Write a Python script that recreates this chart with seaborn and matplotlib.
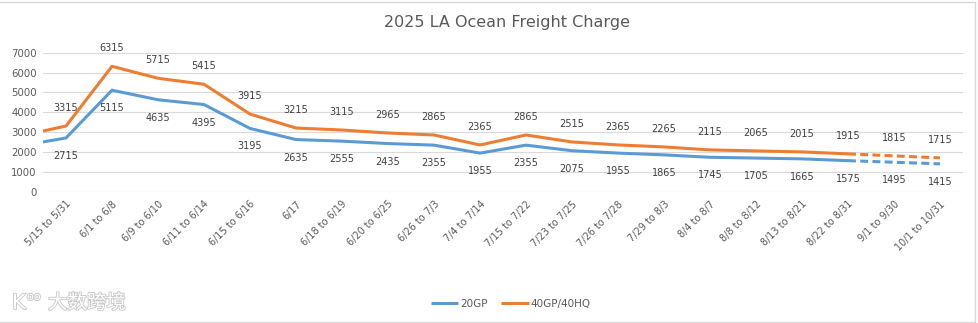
import numpy as np
import pandas as pd
import matplotlib
matplotlib.use("Agg")
import matplotlib.pyplot as plt
import matplotlib.patheffects as pe
from matplotlib.lines import Line2D
import seaborn as sns

# ---- data -------------------------------------------------------------
periods = [
    "5/15 to 5/31", "6/1 to 6/8", "6/9 to 6/10", "6/11 to 6/14", "6/15 to 6/16",
    "6/17", "6/18 to 6/19", "6/20 to 6/25", "6/26 to 7/3", "7/4 to 7/14",
    "7/15 to 7/22", "7/23 to 7/25", "7/26 to 7/28", "7/29 to 8/3", "8/4 to 8/7",
    "8/8 to 8/12", "8/13 to 8/21", "8/22 to 8/31", "9/1 to 9/30", "10/1 to 10/31",
]
rate_20gp = [2715, 5115, 4635, 4395, 3195, 2635, 2555, 2435, 2355, 1955,
             2355, 2075, 1955, 1865, 1745, 1705, 1665, 1575, 1495, 1415]
rate_40gp = [3315, 6315, 5715, 5415, 3915, 3215, 3115, 2965, 2865, 2365,
             2865, 2515, 2365, 2265, 2115, 2065, 2015, 1915, 1815, 1715]
# rate carried in from before the first period (drawn from the axis edge)
lead_in_20gp = 2515
lead_in_40gp = 3065
# periods from this index on are forecasts (dashed)
forecast_start = 18

series_names = ["20GP", "40GP/40HQ"]
series_colors = {"20GP": "#5B9BD5", "40GP/40HQ": "#ED7D31"}

# ---- long-form table ----------------------------------------------------
n = len(periods)
pos = np.arange(n, dtype=float)
rows = []
for name, vals, lead in [("20GP", rate_20gp, lead_in_20gp),
                         ("40GP/40HQ", rate_40gp, lead_in_40gp)]:
    xs = np.concatenate([[-0.5], pos])
    ys = np.concatenate([[lead], vals])
    for x, y in zip(xs, ys):
        if x <= forecast_start - 1:
            rows.append((x, y, name, "actual"))
        if x >= forecast_start - 1:
            rows.append((x, y, name, "forecast"))
df = pd.DataFrame(rows, columns=["pos", "rate", "container", "segment"])

# ---- figure -------------------------------------------------------------
sns.set_theme(style="white")
plt.rcParams["font.family"] = ["DejaVu Sans"]

W, H = 979, 323
fig = plt.figure(figsize=(W / 100, H / 100), dpi=100)
ax = fig.add_axes([43 / W, 1 - 192 / H, (963 - 43) / W, (192 - 52.7) / H])

sns.lineplot(
    data=df, x="pos", y="rate", hue="container", style="segment",
    hue_order=series_names, palette=series_colors,
    dashes={"actual": "", "forecast": (2.6, 1.4)},
    linewidth=2.2, legend=False, ax=ax, sort=False,
    estimator=None, units=None,
)
for line in ax.lines:
    line.set_solid_capstyle("butt")
    line.set_dash_capstyle("butt")

ax.set_xlim(-0.5, n - 0.5)
ax.set_ylim(0, 7000)
ax.set_yticks(np.arange(0, 7001, 1000))
ax.yaxis.grid(True, color="#D9D9D9", linewidth=0.8)
ax.xaxis.grid(False)
for s in ax.spines.values():
    s.set_visible(False)
ax.set_xlabel("")
ax.set_ylabel("")

ax.set_xticks(pos)
ax.set_xticklabels(periods, rotation=45, ha="right", va="top",
                   rotation_mode="anchor", fontsize=7, color="#595959")
ax.tick_params(axis="x", length=0, pad=5)
ax.tick_params(axis="y", length=0, pad=4.5, labelsize=7.3, labelcolor="#595959")

# ---- value labels -------------------------------------------------------
for x, v in zip(pos, rate_40gp):
    ax.annotate(f"{v}", (x, v), xytext=(0, 13), textcoords="offset points",
                ha="center", va="center", fontsize=7, color="#404040",
                annotation_clip=False)
for x, v in zip(pos, rate_20gp):
    ax.annotate(f"{v}", (x, v), xytext=(0, -13), textcoords="offset points",
                ha="center", va="center", fontsize=7, color="#404040",
                annotation_clip=False)

# ---- title & legend -----------------------------------------------------
fig.text(507 / W, 1 - 22 / H, "2025 LA Ocean Freight Charge",
         ha="center", va="center", fontsize=11.5, color="#595959")

handles = [Line2D([], [], color=series_colors[s], linewidth=2.2,
                  solid_capstyle="butt") for s in series_names]
fig.legend(handles, series_names, loc="center", bbox_to_anchor=(511 / W, 1 - 304 / H),
           ncol=2, frameon=False, fontsize=7.5, handlelength=2.6,
           handletextpad=0.2, columnspacing=1.3, labelcolor="#595959")

# ---- chart-area border --------------------------------------------------
border = dict(color="#D9D9D9", linewidth=1.0, transform=fig.transFigure)
fig.add_artist(Line2D([0, 975 / W], [1 - 1.5 / H, 1 - 1.5 / H], **border))
fig.add_artist(Line2D([975 / W, 975 / W], [1 - 1.5 / H, 1 - 321.5 / H], **border))
fig.add_artist(Line2D([0, 975 / W], [1 - 321.5 / H, 1 - 321.5 / H], **border))

# ---- watermark ----------------------------------------------------------
wm = [pe.Stroke(linewidth=1.3, foreground="#C8C8C8"), pe.Normal()]
fig.text(12 / W, 1 - 303 / H, "K", ha="left", va="center", fontsize=15,
         color="white", path_effects=wm, family=["DejaVu Sans"])
fig.text(27 / W, 1 - 297 / H, "oo", ha="left", va="center", fontsize=8,
         color="white", path_effects=wm, family=["DejaVu Sans"])
fig.text(48 / W, 1 - 303 / H, "大数跨境", ha="left", va="center", fontsize=14,
         color="white", path_effects=wm,
         family=["Noto Sans CJK SC", "DejaVu Sans"])

fig.savefig("out.png", dpi=100)
